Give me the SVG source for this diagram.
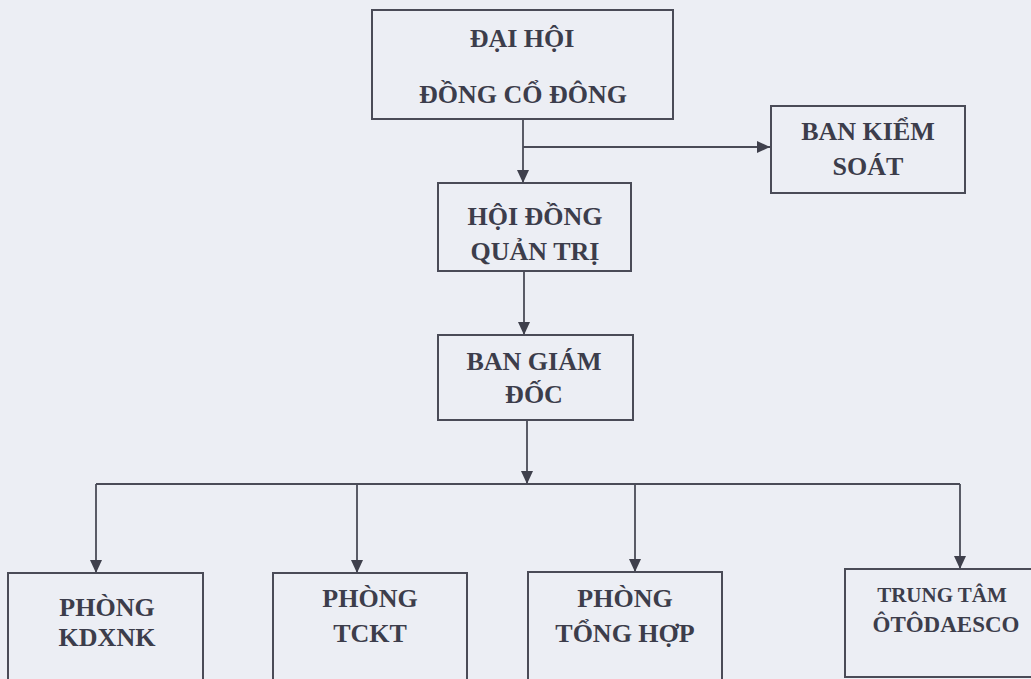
<svg xmlns="http://www.w3.org/2000/svg" width="1031" height="679" viewBox="0 0 1031 679">
<defs>
<style>
.bg{fill:#eceef4}
.box{fill:none;stroke:#4a4b57;stroke-width:2}
.t{font-family:"Liberation Serif","Times New Roman",serif;font-weight:bold;font-size:26px;fill:#3c3d4b;text-anchor:middle}
.ts{font-size:21px}
.tm{font-size:23px}
.c{fill:none;stroke:#4a4b57;stroke-width:1.8}
</style>
<marker id="arr" markerUnits="userSpaceOnUse" markerWidth="14" markerHeight="14" viewBox="0 0 14 14" refX="13" refY="7" orient="auto">
<path d="M0,1 L13,7 L0,13 Z" fill="#3f404c"/>
</marker>
</defs>
<rect class="bg" x="0" y="0" width="1031" height="679"/>
<g id="connectors">
<line class="c" x1="523" y1="119" x2="523" y2="183" marker-end="url(#arr)"/>
<line class="c" x1="523" y1="147" x2="770" y2="147" marker-end="url(#arr)"/>
<line class="c" x1="524" y1="271" x2="524" y2="335" marker-end="url(#arr)"/>
<line class="c" x1="527" y1="420" x2="527" y2="484" marker-end="url(#arr)"/>
<line class="c" x1="96" y1="484" x2="960" y2="484"/>
<line class="c" x1="96" y1="484" x2="96" y2="573" marker-end="url(#arr)"/>
<line class="c" x1="357" y1="484" x2="357" y2="573" marker-end="url(#arr)"/>
<line class="c" x1="635" y1="484" x2="635" y2="572" marker-end="url(#arr)"/>
<line class="c" x1="960" y1="484" x2="960" y2="569" marker-end="url(#arr)"/>
</g>
<g id="dai-hoi">
<rect class="box" x="372" y="10" width="301" height="109"/>
<text class="t" x="522" y="47">ĐẠI HỘI</text>
<text class="t" x="523" y="103">ĐỒNG CỔ ĐÔNG</text>
</g>
<g id="ban-kiem-soat">
<rect class="box" x="771" y="106" width="194" height="87"/>
<text class="t" x="868" y="140">BAN KIỂM</text>
<text class="t" x="868" y="175">SOÁT</text>
</g>
<g id="hoi-dong-quan-tri">
<rect class="box" x="438" y="183" width="193" height="88"/>
<text class="t" x="535" y="225">HỘI ĐỒNG</text>
<text class="t" x="535" y="260">QUẢN TRỊ</text>
</g>
<g id="ban-giam-doc">
<rect class="box" x="438" y="335" width="195" height="85"/>
<text class="t" x="534" y="370">BAN GIÁM</text>
<text class="t" x="534" y="403">ĐỐC</text>
</g>
<g id="phong-kdxnk">
<rect class="box" x="8" y="573" width="195" height="120"/>
<text class="t" x="107" y="616">PHÒNG</text>
<text class="t" x="107" y="646">KDXNK</text>
</g>
<g id="phong-tckt">
<rect class="box" x="273" y="573" width="194" height="120"/>
<text class="t" x="370" y="607">PHÒNG</text>
<text class="t" x="370" y="642">TCKT</text>
</g>
<g id="phong-tong-hop">
<rect class="box" x="528" y="572" width="194" height="120"/>
<text class="t" x="625" y="607">PHÒNG</text>
<text class="t" x="625" y="642">TỔNG HỢP</text>
</g>
<g id="trung-tam">
<rect class="box" x="845" y="569" width="200" height="108"/>
<text class="t ts" x="942" y="602">TRUNG TÂM</text>
<text class="t tm" x="946" y="632">ÔTÔDAESCO</text>
</g>
</svg>
